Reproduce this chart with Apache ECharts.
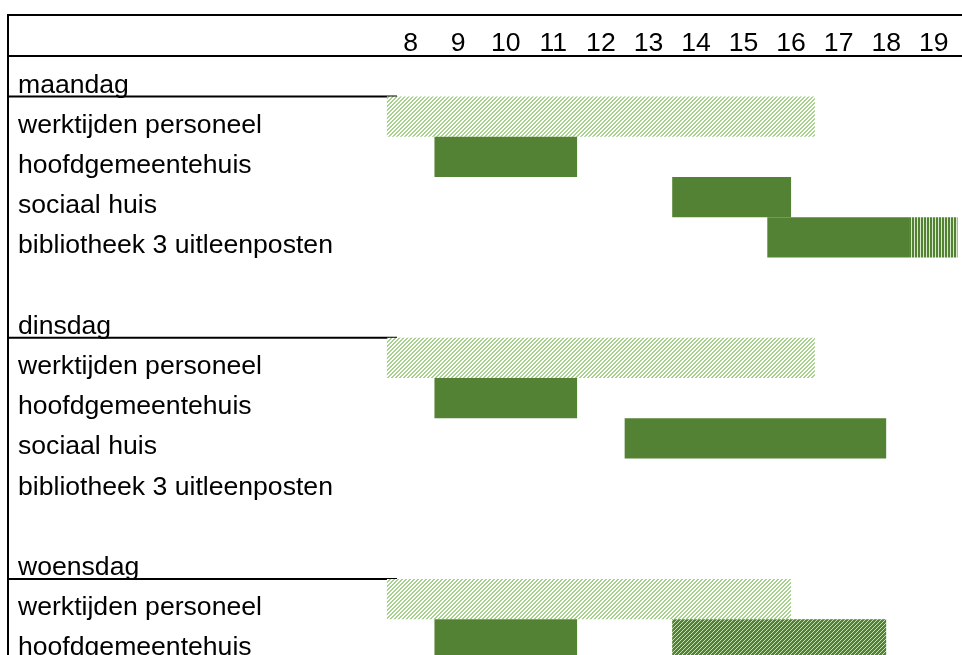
<!DOCTYPE html>
<html>
<head>
<meta charset="utf-8">
<script src="https://cdn.jsdelivr.net/npm/echarts@6/dist/echarts.min.js"></script>
<style>
  html, body { margin: 0; padding: 0; background: #ffffff; }
  #chart { width: 962px; height: 655px; }
</style>
</head>
<body>
<div id="chart"></div>
<script>
// ---- data ----
const hourLabels = ['8', '9', '10', '11', '12', '13', '14', '15', '16', '17', '18', '19'];
const rowLabels = [
  'maandag', 'werktijden personeel', 'hoofdgemeentehuis', 'sociaal huis', 'bibliotheek 3 uitleenposten', '',
  'dinsdag', 'werktijden personeel', 'hoofdgemeentehuis', 'sociaal huis', 'bibliotheek 3 uitleenposten', '',
  'woensdag', 'werktijden personeel', 'hoofdgemeentehuis'
];
const dayRows = [0, 6, 12];
// [row index, start hour, end hour]
const werktijden = [[1, 8, 17], [7, 8, 17], [13, 8, 16.5]];
const openingSolid = [[2, 9, 12], [3, 14, 16.5], [4, 16, 19], [8, 9, 12], [9, 13, 18.5], [14, 9, 12]];
const openingVertical = [[4, 19, 20]];
const openingHatched = [[14, 14, 18.5]];

// ---- layout / style ----
const FONT = "'Liberation Sans', Arial, sans-serif";
const FS = 26.6;
const ROW_H = 40.2;
const GRID_TOP = 56.4;
const GRID_LEFT = 386.9;
const GRID_RIGHT = 4.5;
const LABEL_COL_RIGHT = 397;
const GREEN = '#548235';

function makePattern(size, bg, fg, test) {
  const c = document.createElement('canvas');
  c.width = size; c.height = size;
  const ctx = c.getContext('2d');
  ctx.fillStyle = bg; ctx.fillRect(0, 0, size, size);
  ctx.fillStyle = fg;
  for (let x = 0; x < size; x++) for (let y = 0; y < size; y++) if (test(x, y)) ctx.fillRect(x, y, 1, 1);
  return { image: c, repeat: 'repeat' };
}
const lightHatch = makePattern(4, '#ffffff', '#a9d18e', (x, y) => ((x + y) % 4) < 2);
const darkHatch = makePattern(4, GREEN, '#c5e0b4', (x, y) => ((x + y) % 4) === 0);
const vertStripes = makePattern(3, GREEN, '#d8e8cc', (x, y) => x === 2);

function renderRange(params, api) {
  const row = api.value(0);
  const s = api.coord([api.value(1), row]);
  const e = api.coord([api.value(2), row]);
  const h = api.size([0, 1])[1];
  return {
    type: 'rect',
    shape: { x: s[0], y: s[1] - h / 2, width: e[0] - s[0], height: h },
    style: api.style()
  };
}
function rangeSeries(name, data, color) {
  return {
    name: name, type: 'custom', renderItem: renderRange,
    xAxisIndex: 0, yAxisIndex: 0,
    encode: { x: [1, 2], y: 0 },
    itemStyle: { color: color },
    data: data
  };
}

const chart = echarts.init(document.getElementById('chart'), null, { renderer: 'canvas' });

const lines = [];
lines.push({ type: 'line', shape: { x1: 7, y1: 15, x2: 962, y2: 15 }, style: { stroke: '#000', lineWidth: 2 } });
lines.push({ type: 'line', shape: { x1: 7, y1: GRID_TOP - 0.4, x2: 962, y2: GRID_TOP - 0.4 }, style: { stroke: '#000', lineWidth: 2 } });
dayRows.forEach(r => {
  const y = GRID_TOP + (r + 1) * ROW_H;
  lines.push({ type: 'line', shape: { x1: 7, y1: y, x2: LABEL_COL_RIGHT, y2: y }, style: { stroke: '#000', lineWidth: 2 } });
});
lines.push({ type: 'line', shape: { x1: 8, y1: 14, x2: 8, y2: 655 }, style: { stroke: '#000', lineWidth: 2 } });

chart.setOption({
  animation: false,
  backgroundColor: '#ffffff',
  textStyle: { fontFamily: FONT },
  grid: {
    left: GRID_LEFT, right: GRID_RIGHT, top: GRID_TOP, height: rowLabels.length * ROW_H,
    containLabel: false, outerBoundsMode: 'none'
  },
  xAxis: [
    { type: 'value', min: 8, max: 20, show: false },
    {
      type: 'category', data: hourLabels, position: 'top', boundaryGap: true,
      axisLine: { show: false }, axisTick: { show: false }, splitLine: { show: false },
      axisLabel: { interval: 0, margin: -1, fontSize: FS, color: '#000', fontFamily: FONT }
    }
  ],
  yAxis: {
    type: 'category', data: rowLabels, inverse: true, boundaryGap: true,
    axisLine: { show: false }, axisTick: { show: false }, splitLine: { show: false },
    axisLabel: {
      interval: 0, align: 'left', verticalAlign: 'top', lineHeight: 17.4,
      margin: GRID_LEFT - 18, fontSize: FS, color: '#000', fontFamily: FONT
    }
  },
  graphic: lines,
  series: [
    rangeSeries('werktijden personeel', werktijden, lightHatch),
    rangeSeries('open', openingSolid, GREEN),
    rangeSeries('open (verticaal)', openingVertical, vertStripes),
    rangeSeries('open (gearceerd)', openingHatched, darkHatch)
  ]
});
</script>
</body>
</html>
